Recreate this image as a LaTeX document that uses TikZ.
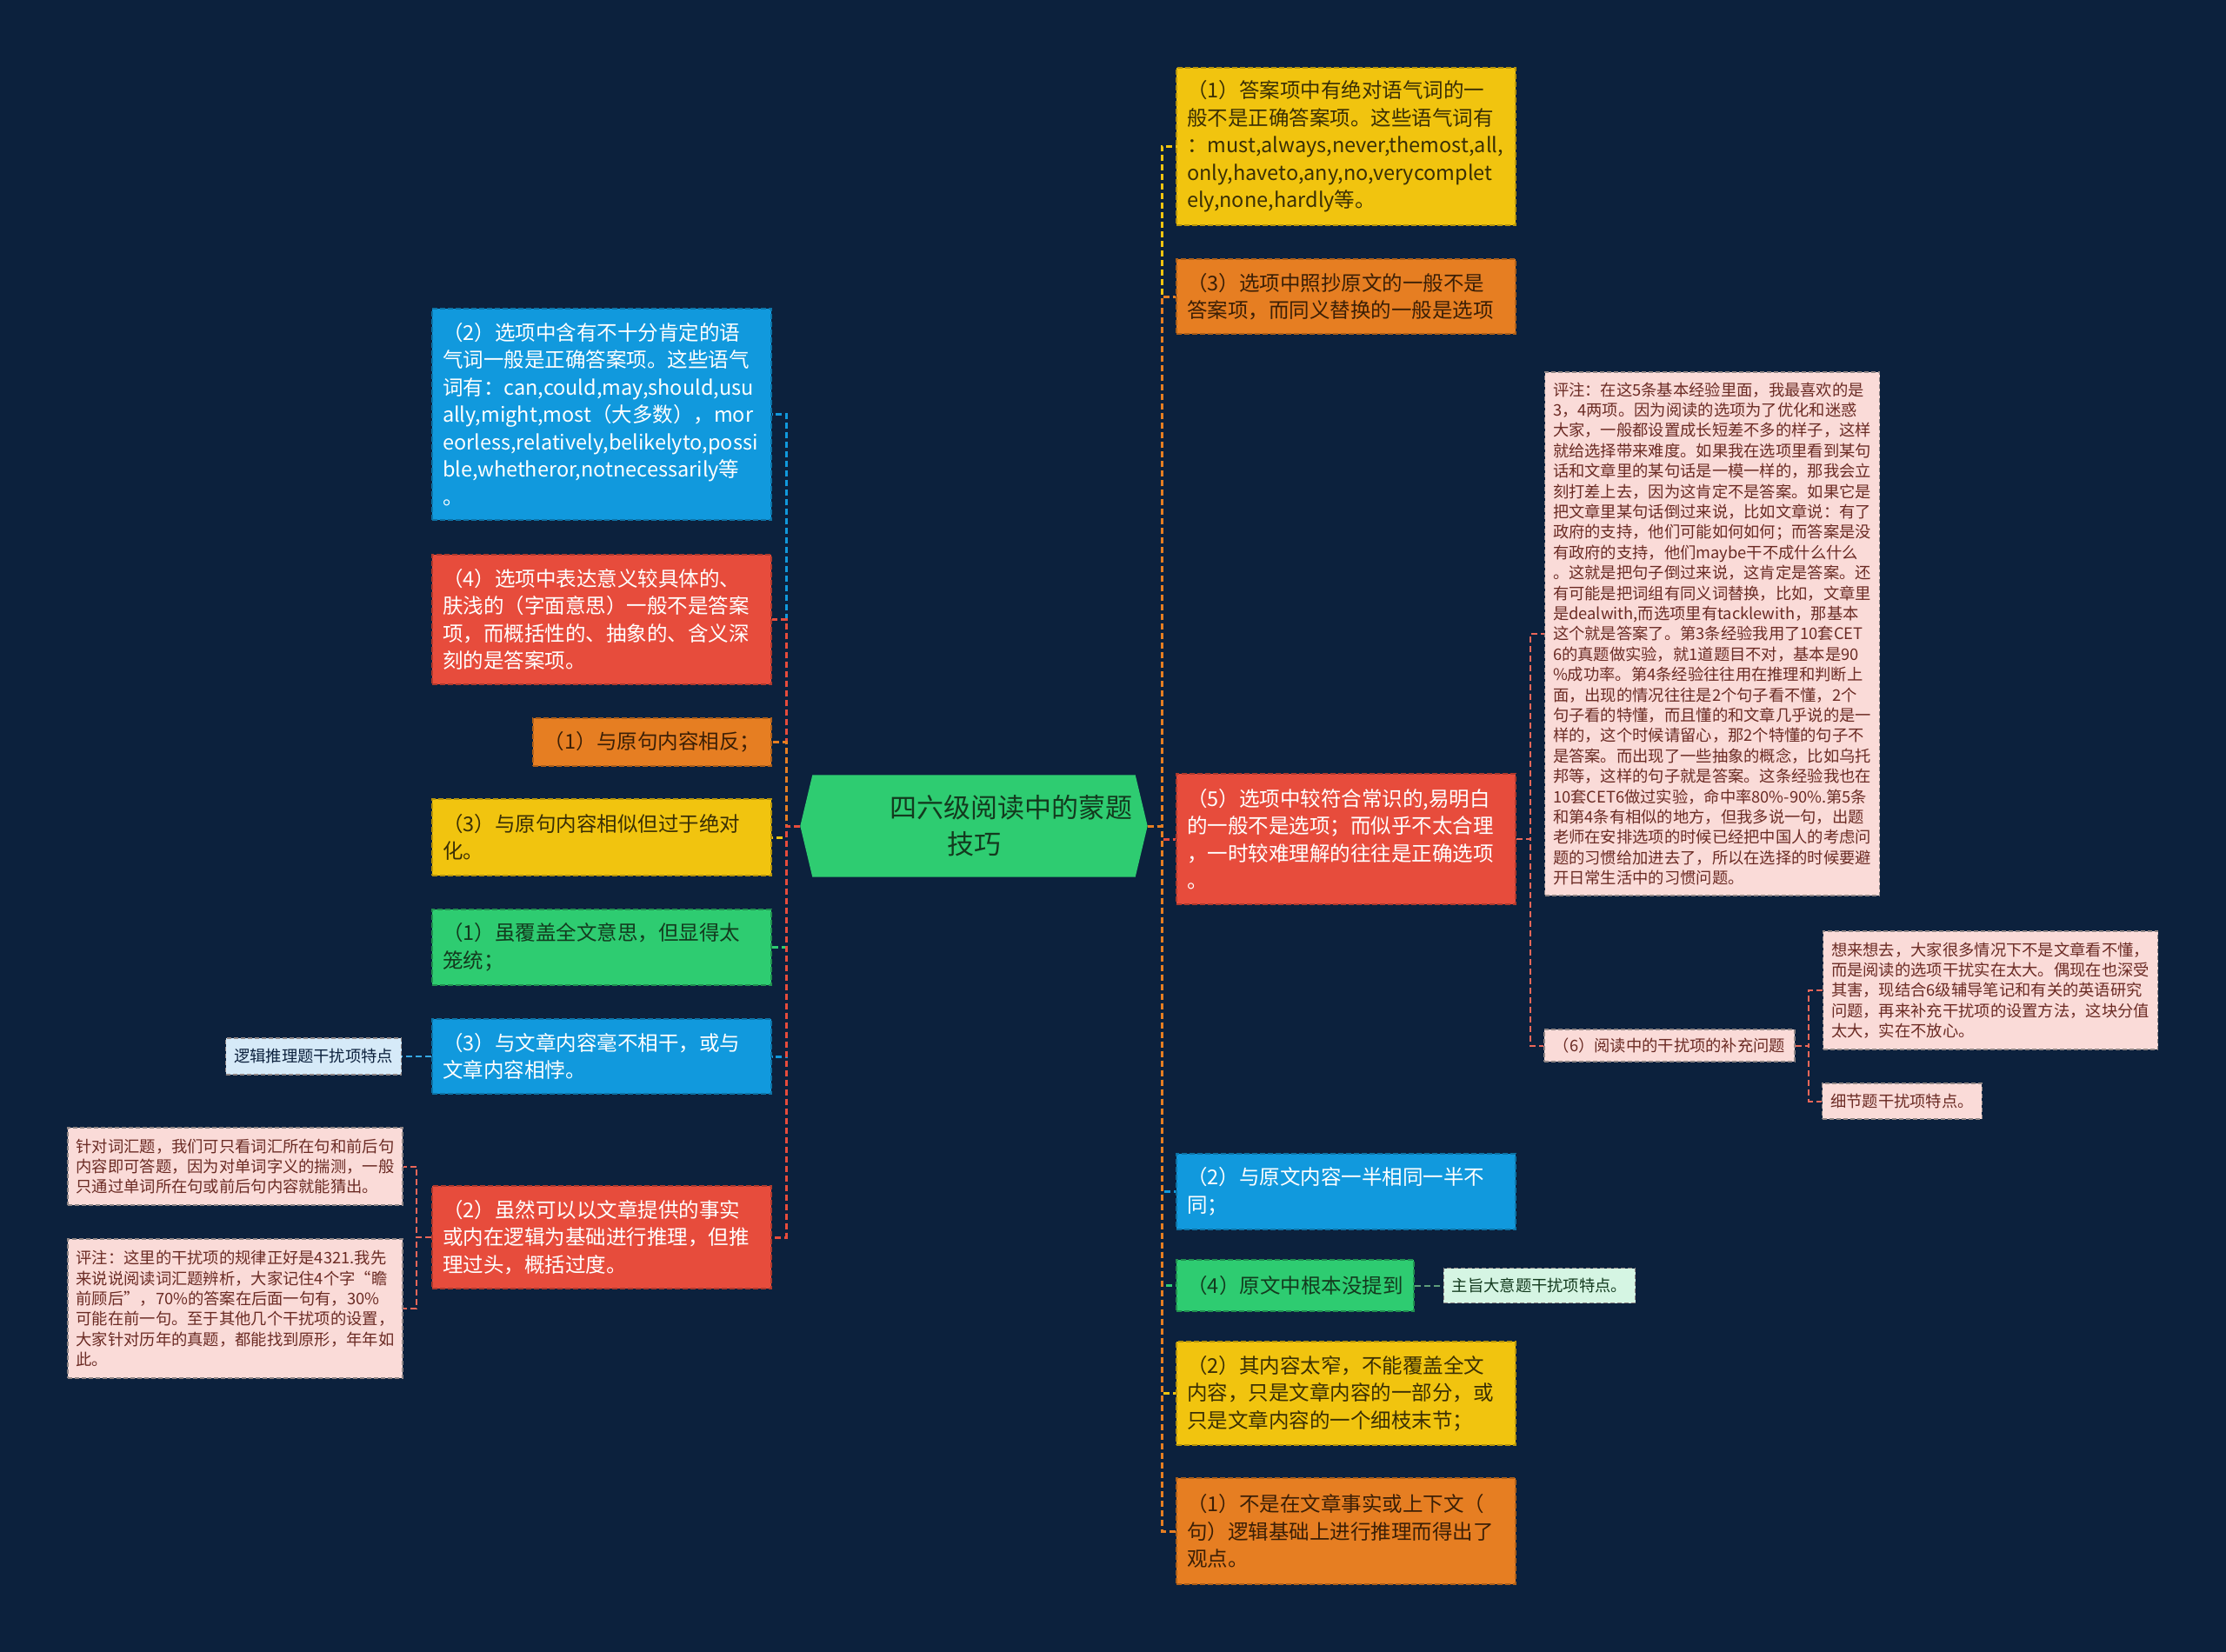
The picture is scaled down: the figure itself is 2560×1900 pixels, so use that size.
\documentclass[tikz,border=0pt]{standalone}
\usepackage{fontspec}
\setmainfont{Noto Sans CJK SC}
\usepackage{xcolor}
\usepackage{tikz}
\usetikzlibrary{positioning,backgrounds}
\hyphenpenalty=10000
\exhyphenpenalty=10000

\definecolor{bgnavy}{HTML}{0C213D}
\definecolor{cgreen}{HTML}{2ECC71}
\definecolor{cblue}{HTML}{1199DD}
\definecolor{cred}{HTML}{E74C3C}
\definecolor{corange}{HTML}{E67E22}
\definecolor{cyellow}{HTML}{F1C40F}
\definecolor{npink}{HTML}{FADBD8}
\definecolor{nblue}{HTML}{D6EAF8}
\definecolor{ngreen}{HTML}{D5F5E3}
\definecolor{ytxt}{HTML}{3A2F05}
\definecolor{otxt}{HTML}{3B1F06}
\definecolor{gtxt}{HTML}{133A1E}
\definecolor{ptxt}{HTML}{6B2B24}
\definecolor{notegray}{HTML}{8F8585}

\begin{document}
\begin{tikzpicture}[
  x=1pt, y=-1pt,
  box/.style={line width=1.5pt, dash pattern=on 6pt off 3pt, align=left,
              inner xsep=12pt, inner ysep=4pt, font=\fontsize{23.5}{31.5}\selectfont},
  wide/.style={box, text width=366pt, minimum height=#1},
  slim/.style={box, inner xsep=8pt, minimum height=#1},
  ybox/.style={fill=cyellow, draw=cyellow!75!black, text=ytxt},
  obox/.style={fill=corange, draw=corange!75!black, text=otxt},
  rbox/.style={fill=cred, draw=cred!75!black, text=white},
  bbox/.style={fill=cblue, draw=cblue!75!black, text=white},
  gbox/.style={fill=cgreen, draw=cgreen!70!black, text=gtxt},
  note/.style={draw=notegray, line width=1.2pt, dash pattern=on 5pt off 3pt, align=left,
               inner xsep=9.5pt, inner ysep=3pt, font=\fontsize{18.3}{23.4}\selectfont},
  pnote/.style={note, fill=npink, text=ptxt},
  longnote/.style={pnote, text width=366pt, minimum height=#1},
  root/.style={align=center, minimum width=399pt, minimum height=117pt,
               text=gtxt, font=\fontsize{31}{42}\selectfont},
  link/.style={draw=#1, line width=3pt, dash pattern=on 7pt off 4pt},
  sublink/.style={draw=#1, line width=2pt, dash pattern=on 7pt off 4pt},
]
\begin{scope}[on background layer]
  \fill[bgnavy] (0,0) rectangle (2560,1900);
\end{scope}
\useasboundingbox (0,0) rectangle (2560,1900);

% centre
\node[root] (root) at (1120,950) {\hspace*{85pt}四六级阅读中的蒙题\\技巧};
\begin{scope}[on background layer]
  \fill[cgreen] (root.west) -- ([xshift=14pt]root.north west) -- ([xshift=-14pt]root.north east)
    -- (root.east) -- ([xshift=-14pt]root.south east) -- ([xshift=14pt]root.south west) -- cycle;
\end{scope}
\coordinate (spL) at (904,950);
\coordinate (spR) at (1336,950);

% left branch
\node[wide=243pt, bbox] (lb2) at (692,476.5) {（2）选项中含有不十分肯定的语\\
气词一般是正确答案项。这些语气\\
词有：can,could,may,should,usu\\
ally,might,most（大多数），mor\\
eorless,relatively,belikelyto,possi\\
ble,whetheror,notnecessarily等\\
。};
\node[wide=149pt, rbox] (lr4) at (692,712.5) {（4）选项中表达意义较具体的、\\
肤浅的（字面意思）一般不是答案\\
项，而概括性的、抽象的、含义深\\
刻的是答案项。};
\node[slim=55pt, obox, minimum width=274pt] (lo1) at (750,853.5) {（1）与原句内容相反；};
\node[wide=88pt, ybox] (ly3) at (692,963) {（3）与原句内容相似但过于绝对\\
化。};
\node[wide=87pt, gbox] (lg1) at (692,1089.5) {（1）虽覆盖全文意思，但显得太\\
笼统；};
\node[wide=86pt, bbox] (lb3) at (692,1215) {（3）与文章内容毫不相干，或与\\
文章内容相悖。};
\node[wide=118pt, rbox] (lr2) at (692,1423) {（2）虽然可以以文章提供的事实\\
或内在逻辑为基础进行推理，但推\\
理过头，概括过度。};

\node[note, fill=nblue, text=bgnavy, minimum height=42pt, left=34pt of lb3] (nlogic) {逻辑推理题干扰项特点};
\node[longnote=89pt] (nvocab) at (270.5,1341.5) {针对词汇题，我们可只看词汇所在句和前后句\\
内容即可答题，因为对单词字义的揣测，一般\\
只通过单词所在句或前后句内容就能猜出。};
\node[longnote=160pt] (n4321) at (270.5,1505) {评注：这里的干扰项的规律正好是4321.我先\\
来说说阅读词汇题辨析，大家记住4个字“瞻\\
前顾后”，70\%的答案在后面一句有，30\%\\
可能在前一句。至于其他几个干扰项的设置，\\
大家针对历年的真题，都能找到原形，年年如\\
此。};
\coordinate (spLR) at (479,1423);

% right branch
\node[wide=181pt, ybox] (ry1) at (1548,168.5) {（1）答案项中有绝对语气词的一\\
般不是正确答案项。这些语气词有\\
：must,always,never,themost,all,\\
only,haveto,any,no,verycomplet\\
ely,none,hardly等。};
\node[wide=86pt, obox] (ro3) at (1548,341) {（3）选项中照抄原文的一般不是\\
答案项，而同义替换的一般是选项};
\node[wide=150pt, rbox] (rr5) at (1548,965) {（5）选项中较符合常识的,易明白\\
的一般不是选项；而似乎不太合理\\
，一时较难理解的往往是正确选项\\
。};
\node[wide=87pt, bbox] (rb2) at (1548,1370.5) {（2）与原文内容一半相同一半不\\
同；};
\node[slim=59pt, gbox, minimum width=273pt] (rg4) at (1489.5,1478.5) {（4）原文中根本没提到};
\node[wide=119pt, ybox] (ry2) at (1548,1602.5) {（2）其内容太窄，不能覆盖全文\\
内容，只是文章内容的一部分，或\\
只是文章内容的一个细枝末节；};
\node[wide=122pt, obox] (ro1) at (1548,1761) {（1）不是在文章事实或上下文（\\
句）逻辑基础上进行推理而得出了\\
观点。};

\node[note, fill=ngreen, text=gtxt, minimum height=40pt, right=33pt of rg4] (nmain) {主旨大意题干扰项特点。};

\node[longnote=602pt] (nbig) at (1969,729) {评注：在这5条基本经验里面，我最喜欢的是\\
3，4两项。因为阅读的选项为了优化和迷惑\\
大家，一般都设置成长短差不多的样子，这样\\
就给选择带来难度。如果我在选项里看到某句\\
话和文章里的某句话是一模一样的，那我会立\\
刻打差上去，因为这肯定不是答案。如果它是\\
把文章里某句话倒过来说，比如文章说：有了\\
政府的支持，他们可能如何如何；而答案是没\\
有政府的支持，他们maybe干不成什么什么\\
。这就是把句子倒过来说，这肯定是答案。还\\
有可能是把词组有同义词替换，比如，文章里\\
是dealwith,而选项里有tacklewith，那基本\\
这个就是答案了。第3条经验我用了10套CET\\
6的真题做实验，就1道题目不对，基本是90\\
\%成功率。第4条经验往往用在推理和判断上\\
面，出现的情况往往是2个句子看不懂，2个\\
句子看的特懂，而且懂的和文章几乎说的是一\\
样的，这个时候请留心，那2个特懂的句子不\\
是答案。而出现了一些抽象的概念，比如乌托\\
邦等，这样的句子就是答案。这条经验我也在\\
10套CET6做过实验，命中率80\%-90\%.第5条\\
和第4条有相似的地方，但我多说一句，出题\\
老师在安排选项的时候已经把中国人的考虑问\\
题的习惯给加进去了，所以在选择的时候要避\\
开日常生活中的习惯问题。};
\node[pnote, minimum width=288pt, minimum height=37pt] (r6) at (1920,1202.5) {（6）阅读中的干扰项的补充问题};
\node[longnote=136pt] (nthink) at (2289,1139) {想来想去，大家很多情况下不是文章看不懂，\\
而是阅读的选项干扰实在太大。偶现在也深受\\
其害，现结合6级辅导笔记和有关的英语研究\\
问题，再来补充干扰项的设置方法，这块分值\\
太大，实在不放心。};
\node[pnote, minimum width=183pt, minimum height=41pt] (ndetail) at (2187.5,1266.5) {细节题干扰项特点。};
\coordinate (sp5) at (1760,965);
\coordinate (sp6) at (2080,1202.5);

% connectors, centre to first level
\draw[link=cblue] (root.west) -- (spL) |- (lb2.east);
\draw[link=cred] (root.west) -- (spL) |- (lr4.east);
\draw[link=corange] (root.west) -- (spL) |- (lo1.east);
\draw[link=cyellow] (root.west) -- (spL) |- (ly3.east);
\draw[link=cgreen] (root.west) -- (spL) |- (lg1.east);
\draw[link=cblue] (root.west) -- (spL) |- (lb3.east);
\draw[link=cred] (root.west) -- (spL) |- (lr2.east);

\draw[link=cyellow] (root.east) -- (spR) |- (ry1.west);
\draw[link=corange] (root.east) -- (spR) |- (ro3.west);
\draw[link=cred] (root.east) -- (spR) |- (rr5.west);
\draw[link=cblue] (root.east) -- (spR) |- (rb2.west);
\draw[link=cgreen] (root.east) -- (spR) |- (rg4.west);
\draw[link=cyellow] (root.east) -- (spR) |- (ry2.west);
\draw[link=corange] (root.east) -- (spR) |- (ro1.west);

% second level
\draw[sublink=cblue!85!white] (lb3.west) -- (nlogic.east);
\draw[sublink=cred!85!white] (lr2.west) -- (spLR) |- (nvocab.east);
\draw[sublink=cred!85!white] (lr2.west) -- (spLR) |- (n4321.east);
\draw[sublink=cgreen!40!gray] (rg4.east) -- (nmain.west);
\draw[sublink=cred!85!white] (rr5.east) -- (sp5) |- (nbig.west);
\draw[sublink=cred!85!white] (rr5.east) -- (sp5) |- (r6.west);
\draw[sublink=cred!85!white] (r6.east) -- (sp6) |- (nthink.west);
\draw[sublink=cred!85!white] (r6.east) -- (sp6) |- (ndetail.west);
\end{tikzpicture}
\end{document}
